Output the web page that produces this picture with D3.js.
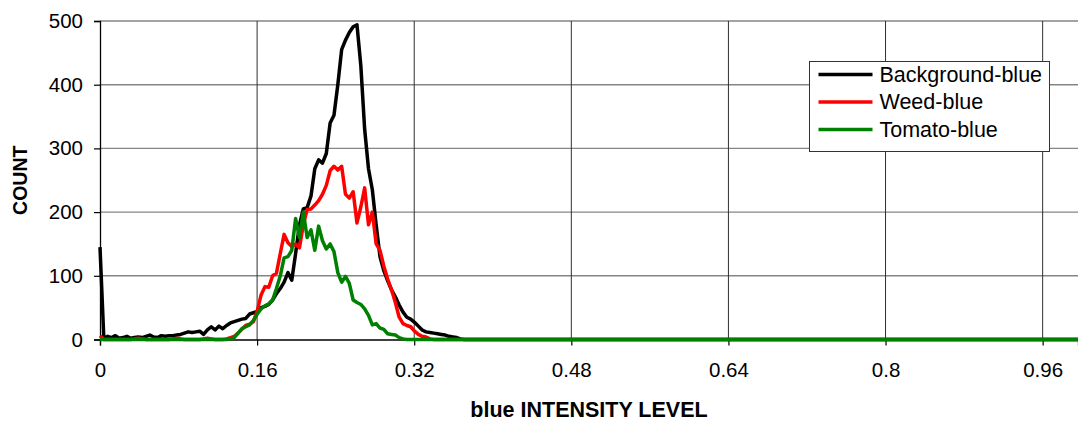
<!DOCTYPE html>
<html>
<head>
<meta charset="utf-8">
<script src="https://cdn.jsdelivr.net/npm/d3@7"></script>
<style>
  html, body { margin: 0; padding: 0; background: #fff; }
  svg { display: block; font-family: Arial, "Liberation Sans", sans-serif; }
</style>
</head>
<body>
<svg id="chart" width="1078" height="424"></svg>
<script>
// Histogram of blue intensity per class (256 bins, x = bin / 256)
const binCount = 256;
const backgroundBlue = [
  145, 2, 5, 3, 6, 2, 3, 5, 2, 3, 4, 3, 5, 7, 4, 3, 6, 5, 6, 6,
  7, 8, 10, 12, 11, 12, 13, 8, 15, 20, 15, 21, 17, 22, 26, 28, 30, 32, 33, 40,
  42, 44, 50, 52, 55, 62, 72, 80, 90, 105, 93, 135, 180, 205, 207, 225, 268, 282, 277, 292,
  340, 352, 400, 455, 470, 482, 491, 494, 430, 330, 268, 235, 180, 130, 108, 92, 78, 67, 54, 43,
  35, 32, 27, 21, 15, 12, 11, 10, 9, 8, 7, 5, 4, 3, 1
];
const weedBlue = [
  6, 0, 0, 0, 0, 0, 0, 0, 0, 1, 2, 1, 0, 0, 0, 0, 0, 0, 0, 1,
  2, 1, 0, 0, 0, 0, 0, 1, 2, 1, 0, 0, 0, 1, 3, 5, 10, 16, 22, 24,
  28, 45, 70, 83, 82, 100, 104, 135, 165, 152, 146, 150, 144, 180, 204, 205, 211, 218, 228, 242,
  265, 272, 266, 272, 228, 222, 232, 183, 208, 238, 180, 200, 150, 140, 115, 95, 78, 58, 35, 25,
  22, 20, 13, 8, 5, 4, 1
];
const tomatoBlue = [
  0, 0, 0, 0, 0, 0, 0, 0, 0, 0, 0, 0, 0, 0, 0, 0, 0, 0, 0, 0,
  0, 0, 0, 0, 0, 0, 0, 0, 0, 0, 0, 0, 0, 0, 1, 3, 10, 17, 20, 23,
  30, 40, 48, 53, 56, 62, 80, 100, 128, 130, 140, 190, 160, 200, 160, 172, 140, 178, 155, 142,
  150, 138, 105, 90, 99, 88, 62, 58, 55, 48, 38, 23, 25, 18, 16, 9, 8, 7, 3, 1
];
const seriesNames = ["Background-blue", "Weed-blue", "Tomato-blue"];
const seriesColors = ["#000000", "#ff0000", "#008000"];
const xTickValues = [0, 0.16, 0.32, 0.48, 0.64, 0.8, 0.96];
const yTickValues = [0, 100, 200, 300, 400, 500];
const xTitle = "blue INTENSITY LEVEL";
const yTitle = "COUNT";

// pad each series with zeros out to the full bin count
function toPoints(vals) {
  const out = [];
  for (let i = 0; i < binCount; i++) out.push({ x: i / binCount, y: i < vals.length ? vals[i] : 0 });
  return out;
}
const series = [backgroundBlue, weedBlue, tomatoBlue].map((v, k) => ({
  name: seriesNames[k], color: seriesColors[k], points: toPoints(v)
}));

const svg = d3.select("#chart");
const plotLeft = 100, plotRight = 1078, plotTop = 21, plotBottom = 339.5;
const x = d3.scaleLinear().domain([0, 0.996]).range([plotLeft, plotRight]);
const y = d3.scaleLinear().domain([0, 500]).range([plotBottom, plotTop]);

// horizontal gridlines
svg.append("g")
  .selectAll("line").data(yTickValues.filter(d => d > 0)).join("line")
  .attr("x1", plotLeft).attr("x2", plotRight)
  .attr("y1", d => y(d)).attr("y2", d => y(d))
  .attr("stroke", "#858585").attr("stroke-width", 1.4);

// vertical gridlines
svg.append("g")
  .selectAll("line").data(xTickValues.filter(d => d > 0)).join("line")
  .attr("x1", d => x(d)).attr("x2", d => x(d))
  .attr("y1", plotTop).attr("y2", plotBottom)
  .attr("stroke", "#303030").attr("stroke-width", 1);

// axes
const fmtX = d => d === 0 ? "0" : String(d);
const xAxis = svg.append("g")
  .attr("transform", `translate(0,${plotBottom})`)
  .call(d3.axisBottom(x).tickValues(xTickValues).tickFormat(fmtX).tickSizeOuter(0).tickSize(6).tickPadding(17));
const yAxis = svg.append("g")
  .attr("transform", `translate(${plotLeft},0)`)
  .call(d3.axisLeft(y).tickValues(yTickValues).tickSizeOuter(0).tickSize(6).tickPadding(11));
[xAxis, yAxis].forEach(g => {
  g.select(".domain").attr("stroke", "#000").attr("stroke-width", 1.3);
  g.selectAll(".tick line").attr("stroke", "#000").attr("stroke-width", 1.2);
  g.selectAll(".tick text").attr("fill", "#000").attr("font-size", 20.5)
    .attr("font-family", "Arial, 'Liberation Sans', sans-serif");
});

// series lines
const line = d3.line().x(d => x(d.x)).y(d => y(d.y));
svg.append("g")
  .selectAll("path").data(series).join("path")
  .attr("d", d => line(d.points))
  .attr("fill", "none")
  .attr("stroke", d => d.color)
  .attr("stroke-width", 3.5)
  .attr("stroke-linejoin", "round");

// axis titles
svg.append("text")
  .attr("x", (plotLeft + plotRight) / 2).attr("y", 417)
  .attr("text-anchor", "middle")
  .attr("font-size", 21.5).attr("font-weight", "bold")
  .text(xTitle);
svg.append("text")
  .attr("transform", `translate(27,${(plotTop + plotBottom) / 2}) rotate(-90)`)
  .attr("text-anchor", "middle")
  .attr("font-size", 19.5).attr("font-weight", "bold")
  .text(yTitle);

// legend
const lg = svg.append("g").attr("transform", "translate(809.5,61.5)");
lg.append("rect").attr("width", 240).attr("height", 90)
  .attr("fill", "#fff").attr("stroke", "#333").attr("stroke-width", 1);
const items = lg.selectAll("g.item").data(series).join("g")
  .attr("class", "item")
  .attr("transform", (d, i) => `translate(0,${13 + i * 27.5})`);
items.append("line")
  .attr("x1", 9).attr("x2", 63)
  .attr("stroke", d => d.color).attr("stroke-width", 3.5);
items.append("text")
  .attr("x", 70).attr("y", 7)
  .attr("font-size", 21.5)
  .text(d => d.name);
</script>
</body>
</html>
